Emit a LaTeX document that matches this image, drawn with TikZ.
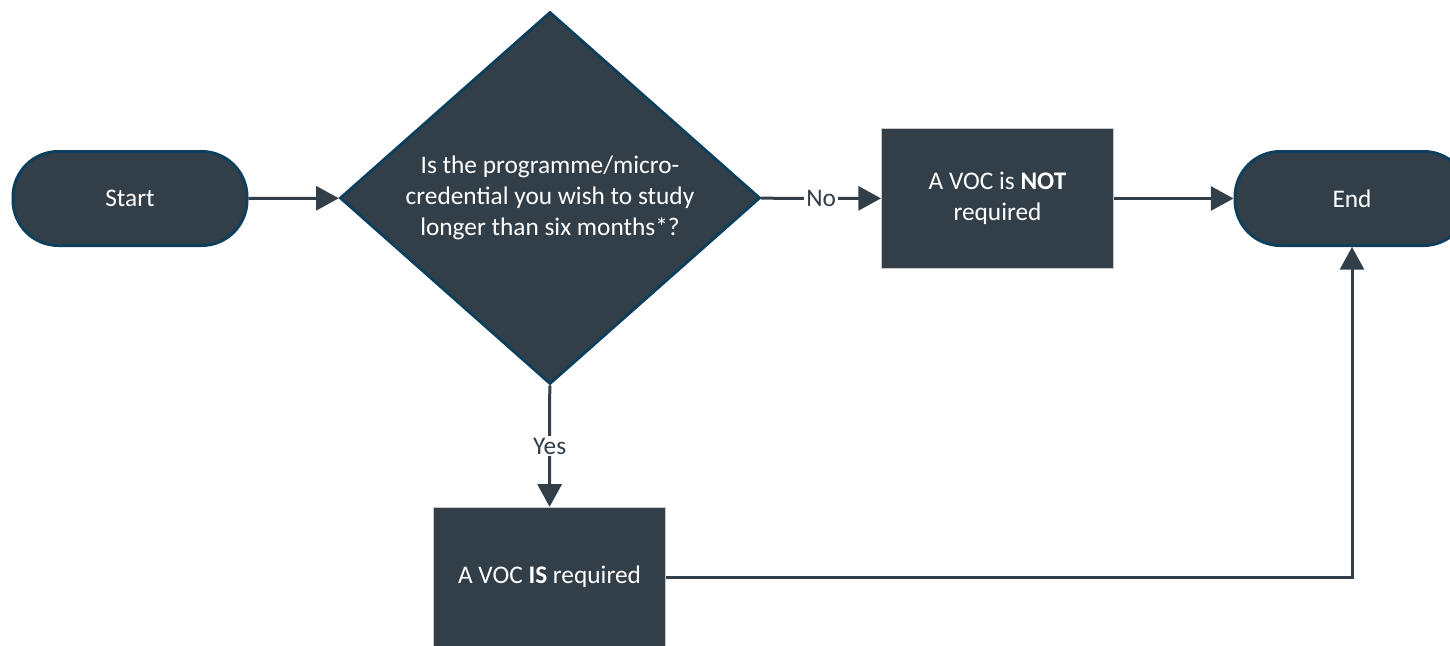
\documentclass[tikz,border=0pt]{standalone}
\usepackage{fontspec}
\setmainfont{Carlito}
\usetikzlibrary{shapes.geometric,arrows.meta}
\definecolor{boxfill}{RGB}{51,63,72}
\definecolor{edgeteal}{RGB}{14,63,92}
\definecolor{linecol}{RGB}{50,62,72}
\definecolor{rectedge}{RGB}{200,200,200}
\tikzset{
  basefont/.style={font=\fontsize{19}{23.5}\selectfont, text=white, align=center},
  terminal/.style={basefont, draw=edgeteal, line width=2.25pt, fill=boxfill, rounded corners=34pt, minimum width=175.5pt, minimum height=70.5pt, inner sep=0pt},
  decision/.style={basefont, shape=diamond, draw=edgeteal, line width=2.25pt, fill=boxfill, minimum width=315pt, minimum height=279pt, inner sep=0pt, aspect=1.13},
  process/.style={basefont, draw=rectedge, line width=0.75pt, fill=boxfill, minimum width=174pt, minimum height=104.5pt, inner sep=0pt},
  conn/.style={draw=linecol, line width=2.25pt, -{Triangle[length=17pt,width=18pt]}},
  connlabel/.style={font=\fontsize{19}{22}\selectfont, text=linecol, fill=white, inner sep=1.5pt}
}
\begin{document}
\begin{tikzpicture}[x=0.75pt,y=-0.75pt]
\useasboundingbox (0,0) rectangle (1450,646);
\clip (0,0) rectangle (1450,646);
\node[terminal] (start) at (130,198.5) {Start};
\node[decision] (dec) at (550,198) {Is the programme/micro-\\credential you wish to study\\longer than six months*?};
\node[process] (notreq) at (997.5,198.5) {A VOC is \textbf{NOT}\\required};
\node[terminal] (endn) at (1352,198.5) {End};
\node[process] (isreq) at (549.5,577) {A VOC \textbf{IS} required};
\coordinate (corner) at (1352,577);
\draw[conn] (start) -- (dec);
\draw[conn] (dec) -- node[connlabel] {No} (notreq);
\draw[conn] (notreq) -- (endn);
\draw[conn] (dec) -- node[connlabel] {Yes} (isreq);
\draw[conn] (isreq.east) -- (corner) -- (endn.south);
\end{tikzpicture}
\end{document}
